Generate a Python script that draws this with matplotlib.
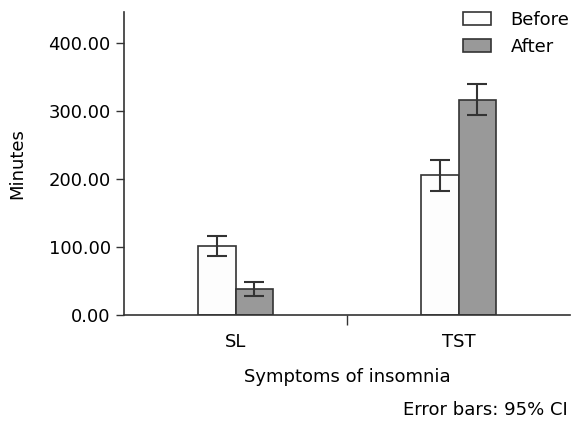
import matplotlib
matplotlib.use('Agg')
import matplotlib.pyplot as plt
import numpy as np
from matplotlib.ticker import FuncFormatter

# data
categories = ['SL', 'TST']
before = [101, 205]
before_err = [15, 23]
after = [38, 316]
after_err = [10, 23]

plt.rcParams['font.family'] = ['DejaVu Sans']
fs = 13

fig = plt.figure(figsize=(5.72, 4.22), dpi=100)
ax = fig.add_axes([124 / 572, 107 / 422, 446 / 572, 303 / 422])

x = np.arange(len(categories))
w = 0.17
edge = '#333333'
ax.bar(x - w / 2, before, w, color='#fdfdfd', edgecolor=edge, linewidth=1.2, label='Before', zorder=2)
ax.bar(x + w / 2, after, w, color='#999999', edgecolor=edge, linewidth=1.2, label='After', zorder=2)
ax.errorbar(x - w / 2, before, yerr=before_err, fmt='none', ecolor=edge, elinewidth=1.5, capsize=7, capthick=1.5, zorder=3)
ax.errorbar(x + w / 2, after, yerr=after_err, fmt='none', ecolor=edge, elinewidth=1.5, capsize=7, capthick=1.5, zorder=3)

ax.set_xlim(-0.5, 1.5)
ax.set_ylim(0, 445)
ax.set_yticks([0, 100, 200, 300, 400])
ax.yaxis.set_major_formatter(FuncFormatter(lambda v, p: f'{v:.2f}'))
ax.set_xticks(x)
ax.set_xticklabels(categories)
ax.tick_params(axis='x', length=0, labelsize=fs, pad=13)
ax.set_xticks([0.5], minor=True)
ax.tick_params(axis='x', which='minor', length=7, width=1, color=edge)
ax.tick_params(axis='y', length=5.5, width=1, color=edge, labelsize=fs, pad=4)

for s in ['top', 'right']:
    ax.spines[s].set_visible(False)
for s in ['left', 'bottom']:
    ax.spines[s].set_color(edge)
    ax.spines[s].set_linewidth(1.2)

ax.set_ylabel('Minutes', fontsize=fs, labelpad=16)
ax.set_xlabel('Symptoms of insomnia', fontsize=fs, labelpad=12)
fig.text(568 / 572, 1 - 410 / 422, 'Error bars: 95% CI', fontsize=fs, ha='right', va='center')

leg = ax.legend(loc='upper right', bbox_to_anchor=(1.035, 1.058), frameon=False, fontsize=fs,
                handlelength=1.55, handleheight=0.75, labelspacing=0.5, handletextpad=1.1)

plt.savefig('out.png', dpi=100)
